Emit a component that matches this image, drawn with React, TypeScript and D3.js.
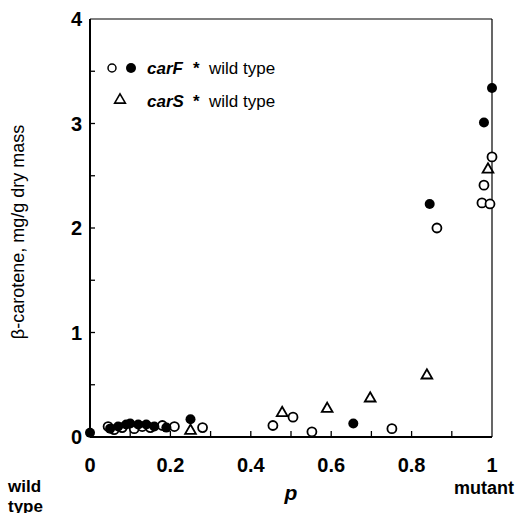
import * as d3 from "d3";
import { useRef, useEffect } from "react";

// carF * wild type, filled circles
const carFFilledP = [0, 0.05, 0.07, 0.09, 0.1, 0.12, 0.14, 0.16, 0.19, 0.25, 0.655, 0.845, 0.98, 1.0];
const carFFilledV = [0.04, 0.08, 0.1, 0.12, 0.13, 0.12, 0.12, 0.1, 0.09, 0.17, 0.13, 2.23, 3.01, 3.34];

// carF * wild type, open circles
const carFOpenP = [0.045, 0.06, 0.08, 0.11, 0.13, 0.15, 0.18, 0.21, 0.28, 0.455, 0.505, 0.552, 0.751, 0.863, 0.975, 0.98, 0.995, 1.0];
const carFOpenV = [0.1, 0.07, 0.09, 0.08, 0.1, 0.09, 0.11, 0.1, 0.09, 0.11, 0.19, 0.05, 0.08, 2.0, 2.24, 2.41, 2.23, 2.68];

// carS * wild type, triangles
const carSP = [0.25, 0.478, 0.59, 0.697, 0.838, 0.99];
const carSV = [0.05, 0.22, 0.26, 0.36, 0.58, 2.55];

const xTicks = [0, 0.2, 0.4, 0.6, 0.8, 1];
const xTickLabels = ["0", "0.2", "0.4", "0.6", "0.8", "1"];
const yTicks = [0, 1, 2, 3, 4];

const width = 516;
const height = 513;
const margin = { left: 90, right: 24, top: 19, bottom: 76 };

function App() {
  const svgRef = useRef<SVGSVGElement>(null);

  useEffect(() => {
    const svg = d3.select(svgRef.current);
    svg.selectAll("*").remove();

    const x = d3.scaleLinear().domain([0, 1]).range([margin.left, width - margin.right]);
    const y = d3.scaleLinear().domain([0, 4]).range([height - margin.bottom, margin.top]);
    const [x0, x1] = x.range();
    const [y0, y1] = y.range();
    const font = "'Liberation Sans', Arial, sans-serif";

    // frame
    svg.append("line").attr("x1", x0).attr("x2", x1).attr("y1", y1).attr("y2", y1)
      .attr("stroke", "#000").attr("stroke-width", 1.2);
    svg.append("line").attr("x1", x1).attr("x2", x1).attr("y1", y1).attr("y2", y0)
      .attr("stroke", "#000").attr("stroke-width", 1.2);
    svg.append("line").attr("x1", x0).attr("x2", x0).attr("y1", y1).attr("y2", y0)
      .attr("stroke", "#000").attr("stroke-width", 2);
    svg.append("line").attr("x1", x0).attr("x2", x1).attr("y1", y0).attr("y2", y0)
      .attr("stroke", "#000").attr("stroke-width", 2);

    // inward ticks
    svg.append("g").selectAll("line").data(d3.range(1, 10).map((i) => i / 10)).join("line")
      .attr("x1", (d) => x(d)).attr("x2", (d) => x(d))
      .attr("y1", y0).attr("y2", y0 - 6)
      .attr("stroke", "#000").attr("stroke-width", 1.3);
    svg.append("g").selectAll("line").data(d3.range(1, 8).map((i) => i / 2)).join("line")
      .attr("x1", x0).attr("x2", x0 + 5)
      .attr("y1", (d) => y(d)).attr("y2", (d) => y(d))
      .attr("stroke", "#000").attr("stroke-width", 1.3);

    // tick labels
    svg.append("g").selectAll("text").data(yTicks).join("text")
      .attr("x", x0 - 8).attr("y", (d) => y(d) + 7)
      .attr("text-anchor", "end")
      .attr("font-family", font).attr("font-weight", "bold").attr("font-size", 20)
      .text((d) => d);
    svg.append("g").selectAll("text").data(xTicks).join("text")
      .attr("x", (d) => x(d)).attr("y", y0 + 35)
      .attr("text-anchor", "middle")
      .attr("font-family", font).attr("font-weight", "bold").attr("font-size", 20)
      .text((d, i) => xTickLabels[i]);

    // axis titles
    svg.append("text")
      .attr("transform", `translate(24, ${(y0 + y1) / 2 + 4}) rotate(-90)`)
      .attr("text-anchor", "middle")
      .attr("font-family", font).attr("font-size", 18)
      .text("β-carotene, mg/g dry mass");
    svg.append("text")
      .attr("x", (x0 + x1) / 2).attr("y", y0 + 63)
      .attr("text-anchor", "middle")
      .attr("font-family", font).attr("font-weight", "bold").attr("font-style", "italic").attr("font-size", 21)
      .text("p");
    svg.append("text").attr("x", 8).attr("y", y0 + 55)
      .attr("font-family", font).attr("font-weight", "bold").attr("font-size", 17).text("wild");
    svg.append("text").attr("x", 8).attr("y", y0 + 75)
      .attr("font-family", font).attr("font-weight", "bold").attr("font-size", 17).text("type");
    svg.append("text").attr("x", width - 2).attr("y", y0 + 57)
      .attr("text-anchor", "end")
      .attr("font-family", font).attr("font-weight", "bold").attr("font-size", 18).text("mutant");

    // markers
    const tri = d3.symbol().type(d3.symbolTriangle).size(50);
    const r = 4.5;

    svg.append("g").selectAll("circle").data(d3.range(carFOpenP.length)).join("circle")
      .attr("cx", (i) => x(carFOpenP[i])).attr("cy", (i) => y(carFOpenV[i]))
      .attr("r", r).attr("fill", "#fff").attr("stroke", "#000").attr("stroke-width", 1.8);
    svg.append("g").selectAll("circle").data(d3.range(carFFilledP.length)).join("circle")
      .attr("cx", (i) => x(carFFilledP[i])).attr("cy", (i) => y(carFFilledV[i]))
      .attr("r", r + 0.5).attr("fill", "#000");
    svg.append("g").selectAll("path").data(d3.range(carSP.length)).join("path")
      .attr("d", tri)
      .attr("transform", (i) => `translate(${x(carSP[i])}, ${y(carSV[i]) - 1})`)
      .attr("fill", "none").attr("stroke", "#000").attr("stroke-width", 1.8);

    // legend
    const leg = svg.append("g").attr("font-family", font).attr("font-size", 17);
    leg.append("circle").attr("cx", 112).attr("cy", 68).attr("r", 4)
      .attr("fill", "#fff").attr("stroke", "#000").attr("stroke-width", 1.5);
    leg.append("circle").attr("cx", 131).attr("cy", 68).attr("r", 5).attr("fill", "#000");
    leg.append("path").attr("d", tri).attr("transform", "translate(120, 100)")
      .attr("fill", "none").attr("stroke", "#000").attr("stroke-width", 1.6);
    const rows = [
      { name: "carF", y: 74 },
      { name: "carS", y: 107 },
    ];
    rows.forEach((row) => {
      leg.append("text").attr("x", 147).attr("y", row.y)
        .attr("font-style", "italic").attr("font-weight", "bold").text(row.name);
      leg.append("text").attr("x", 193).attr("y", row.y).attr("font-weight", "bold").text("*");
      leg.append("text").attr("x", 209).attr("y", row.y).text("wild type");
    });
  }, []);

  return (
    <svg
      ref={svgRef}
      width={width}
      height={height}
      style={{ position: "absolute", left: 0, top: 0, background: "#fff" }}
    />
  );
}

export default App;
